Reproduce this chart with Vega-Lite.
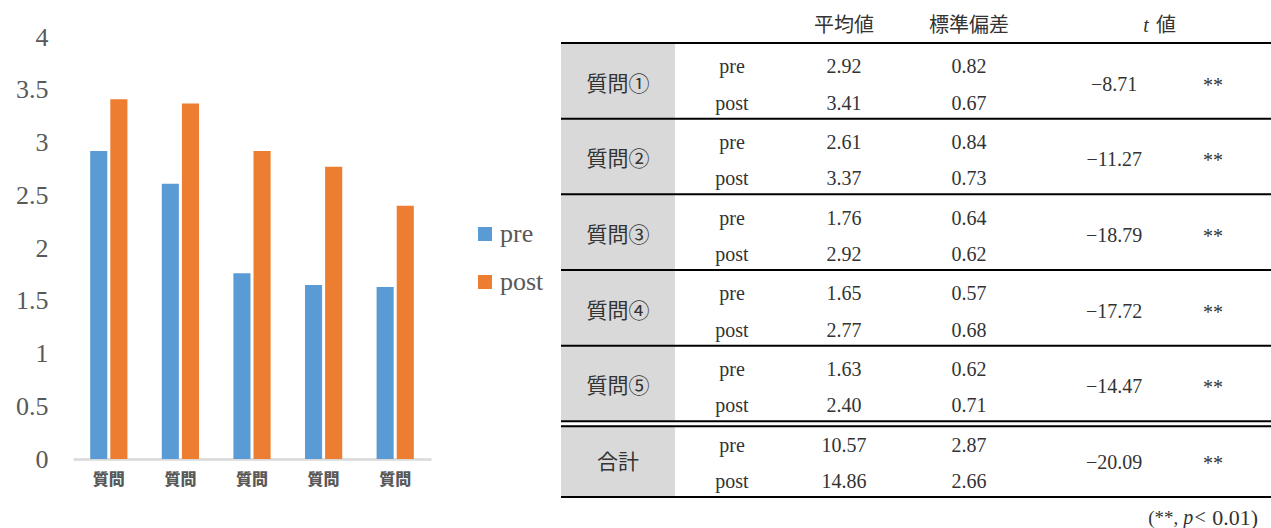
{
  "$schema": "https://vega.github.io/schema/vega-lite/v6.json",
  "padding": {"left": 15, "top": 15, "right": 0, "bottom": 0},
  "background": "white",
  "bounds": "flush",
  "spacing": 130,
  "config": {"view": {"stroke": null}, "axis": {"grid": false}},
  "datasets": {
    "stats": [
      {"group": "質問①", "phase": "pre", "mean": 2.92, "sd": 0.82},
      {"group": "質問①", "phase": "post", "mean": 3.41, "sd": 0.67},
      {"group": "質問②", "phase": "pre", "mean": 2.61, "sd": 0.84},
      {"group": "質問②", "phase": "post", "mean": 3.37, "sd": 0.73},
      {"group": "質問③", "phase": "pre", "mean": 1.76, "sd": 0.64},
      {"group": "質問③", "phase": "post", "mean": 2.92, "sd": 0.62},
      {"group": "質問④", "phase": "pre", "mean": 1.65, "sd": 0.57},
      {"group": "質問④", "phase": "post", "mean": 2.77, "sd": 0.68},
      {"group": "質問⑤", "phase": "pre", "mean": 1.63, "sd": 0.62},
      {"group": "質問⑤", "phase": "post", "mean": 2.40, "sd": 0.71},
      {"group": "合計", "phase": "pre", "mean": 10.57, "sd": 2.87},
      {"group": "合計", "phase": "post", "mean": 14.86, "sd": 2.66}
    ],
    "tests": [
      {"group": "質問①", "t": -8.71, "sig": "**"},
      {"group": "質問②", "t": -11.27, "sig": "**"},
      {"group": "質問③", "t": -18.79, "sig": "**"},
      {"group": "質問④", "t": -17.72, "sig": "**"},
      {"group": "質問⑤", "t": -14.47, "sig": "**"},
      {"group": "合計", "t": -20.09, "sig": "**"}
    ],
    "headers": [
      {"mean_h": "平均値", "sd_h": "標準偏差", "t_h": "t", "t_unit": "値", "note_a": "(**,", "note_p": "p", "note_lt": "<", "note_b": "0.01)"}
    ]
  },
  "hconcat": [
    {
      "width": 358,
      "height": 422,
      "data": {"name": "stats"},
      "transform": [{"filter": "datum.group !== '合計'"}],
      "mark": {"type": "bar"},
      "encoding": {
        "x": {
          "field": "group", "type": "nominal",
          "scale": {"domain": ["質問①", "質問②", "質問③", "質問④", "質問⑤"], "paddingInner": 0.48, "paddingOuter": 0.24},
          "axis": {
            "title": null, "labelExpr": "substring(datum.label, 0, 2)", "labelAngle": 0,
            "labelFont": "Noto Sans CJK JP", "labelFontWeight": 900, "labelFontSize": 16,
            "labelColor": "#595959", "labelDx": -10, "labelPadding": 12,
            "ticks": false, "domainColor": "#D9D9D9", "domainWidth": 2.5
          }
        },
        "xOffset": {"field": "phase", "type": "nominal", "scale": {"domain": ["pre", "post"], "paddingInner": 0.15}},
        "y": {
          "field": "mean", "type": "quantitative",
          "scale": {"domain": [0, 4], "nice": false},
          "axis": {
            "title": null, "values": [0, 0.5, 1, 1.5, 2, 2.5, 3, 3.5, 4], "format": "~g",
            "labelFont": "Liberation Serif", "labelFontSize": 26, "labelColor": "#595959",
            "labelPadding": 25, "ticks": false, "domain": false, "grid": false
          }
        },
        "color": {
          "field": "phase", "type": "nominal",
          "scale": {"domain": ["pre", "post"], "range": ["#5B9BD5", "#ED7D31"]},
          "legend": {
            "title": null, "orient": "none", "legendX": 399, "legendY": 184, "direction": "vertical",
            "symbolType": "square", "symbolSize": 196, "symbolStrokeWidth": 0, "symbolOpacity": 1,
            "labelFont": "Liberation Serif", "labelFontSize": 26, "labelColor": "#595959",
            "rowPadding": 22, "labelOffset": 2, "padding": 0
          }
        }
      }
    },
    {
      "width": 711,
      "height": 460,
      "layer": [
        {
          "data": {"name": "tests"},
          "mark": {"type": "rect", "color": "#D9D9D9"},
          "encoding": {
            "x": {"datum": 0, "type": "quantitative", "scale": {"domain": [0, 100], "nice": false, "zero": false}, "axis": null},
            "x2": {"datum": 16.03},
            "y": {"field": "group", "type": "nominal", "scale": {"type": "band", "domain": ["質問①", "質問②", "質問③", "質問④", "質問⑤", "合計"], "paddingInner": 0, "paddingOuter": 0.0396, "align": 1}, "axis": null}
          }
        },
        {
          "data": {"name": "tests"},
          "transform": [{"filter": "datum.group === '合計'"}],
          "mark": {"type": "rule", "color": "white", "strokeWidth": 4, "yOffset": 2.5},
          "encoding": {
            "x": {"datum": 0, "type": "quantitative"},
            "x2": {"datum": 16.03},
            "y": {"field": "group", "type": "nominal", "bandPosition": 0}
          }
        },
        {
          "data": {"name": "tests"},
          "mark": {"type": "rule", "color": "black", "strokeWidth": 2},
          "encoding": {
            "x": {"datum": 0, "type": "quantitative"},
            "x2": {"datum": 100},
            "y": {"field": "group", "type": "nominal", "bandPosition": 0}
          }
        },
        {
          "data": {"name": "tests"},
          "transform": [{"filter": "datum.group === '合計'"}],
          "mark": {"type": "rule", "color": "black", "strokeWidth": 2, "yOffset": 5},
          "encoding": {
            "x": {"datum": 0, "type": "quantitative"},
            "x2": {"datum": 100},
            "y": {"field": "group", "type": "nominal", "bandPosition": 0}
          }
        },
        {
          "data": {"name": "tests"},
          "transform": [{"filter": "datum.group === '合計'"}],
          "mark": {"type": "rule", "color": "black", "strokeWidth": 2},
          "encoding": {
            "x": {"datum": 0, "type": "quantitative"},
            "x2": {"datum": 100},
            "y": {"field": "group", "type": "nominal", "bandPosition": 1}
          }
        },
        {
          "data": {"name": "tests"},
          "mark": {"type": "text", "font": "Noto Sans CJK JP", "fontSize": 21, "color": "#333333", "dy": 4},
          "encoding": {
            "x": {"datum": 8.0, "type": "quantitative"},
            "y": {"field": "group", "type": "nominal", "bandPosition": 0.5},
            "text": {"field": "group"}
          }
        },
        {
          "data": {"name": "stats"},
          "transform": [{"filter": "datum.phase === 'pre'"}],
          "layer": [
            {
              "mark": {"type": "text", "font": "Liberation Serif", "fontSize": 20, "color": "#333333"},
              "encoding": {
                "x": {"datum": 24.05, "type": "quantitative"},
                "y": {"field": "group", "type": "nominal", "bandPosition": 0.32},
                "text": {"field": "phase"}
              }
            },
            {
              "mark": {"type": "text", "font": "Liberation Serif", "fontSize": 20, "color": "#333333"},
              "encoding": {
                "x": {"datum": 39.8, "type": "quantitative"},
                "y": {"field": "group", "type": "nominal", "bandPosition": 0.32},
                "text": {"field": "mean", "type": "quantitative", "format": ".2f"}
              }
            },
            {
              "mark": {"type": "text", "font": "Liberation Serif", "fontSize": 20, "color": "#333333"},
              "encoding": {
                "x": {"datum": 57.4, "type": "quantitative"},
                "y": {"field": "group", "type": "nominal", "bandPosition": 0.32},
                "text": {"field": "sd", "type": "quantitative", "format": ".2f"}
              }
            }
          ]
        },
        {
          "data": {"name": "stats"},
          "transform": [{"filter": "datum.phase === 'post'"}],
          "layer": [
            {
              "mark": {"type": "text", "font": "Liberation Serif", "fontSize": 20, "color": "#333333"},
              "encoding": {
                "x": {"datum": 24.05, "type": "quantitative"},
                "y": {"field": "group", "type": "nominal", "bandPosition": 0.8},
                "text": {"field": "phase"}
              }
            },
            {
              "mark": {"type": "text", "font": "Liberation Serif", "fontSize": 20, "color": "#333333"},
              "encoding": {
                "x": {"datum": 39.8, "type": "quantitative"},
                "y": {"field": "group", "type": "nominal", "bandPosition": 0.8},
                "text": {"field": "mean", "type": "quantitative", "format": ".2f"}
              }
            },
            {
              "mark": {"type": "text", "font": "Liberation Serif", "fontSize": 20, "color": "#333333"},
              "encoding": {
                "x": {"datum": 57.4, "type": "quantitative"},
                "y": {"field": "group", "type": "nominal", "bandPosition": 0.8},
                "text": {"field": "sd", "type": "quantitative", "format": ".2f"}
              }
            }
          ]
        },
        {
          "data": {"name": "tests"},
          "mark": {"type": "text", "font": "Liberation Serif", "fontSize": 20, "color": "#333333", "dy": 4},
          "encoding": {
            "x": {"datum": 77.8, "type": "quantitative"},
            "y": {"field": "group", "type": "nominal", "bandPosition": 0.5},
            "text": {"field": "t", "type": "quantitative", "format": ".2f"}
          }
        },
        {
          "data": {"name": "tests"},
          "mark": {"type": "text", "font": "Liberation Serif", "fontSize": 20, "color": "#333333", "dy": 5},
          "encoding": {
            "x": {"datum": 91.7, "type": "quantitative"},
            "y": {"field": "group", "type": "nominal", "bandPosition": 0.5},
            "text": {"field": "sig"}
          }
        },
        {
          "data": {"name": "headers"},
          "mark": {"type": "text", "font": "Noto Sans CJK JP", "fontSize": 20, "color": "#333333", "dy": -17},
          "encoding": {
            "x": {"datum": 39.8, "type": "quantitative"},
            "y": {"datum": "質問①", "type": "nominal", "bandPosition": 0},
            "text": {"field": "mean_h"}
          }
        },
        {
          "data": {"name": "headers"},
          "mark": {"type": "text", "font": "Noto Sans CJK JP", "fontSize": 20, "color": "#333333", "dy": -17},
          "encoding": {
            "x": {"datum": 57.4, "type": "quantitative"},
            "y": {"datum": "質問①", "type": "nominal", "bandPosition": 0},
            "text": {"field": "sd_h"}
          }
        },
        {
          "data": {"name": "headers"},
          "mark": {"type": "text", "font": "Liberation Serif", "fontStyle": "italic", "fontSize": 20, "color": "#333333", "dy": -17},
          "encoding": {
            "x": {"datum": 82.3, "type": "quantitative"},
            "y": {"datum": "質問①", "type": "nominal", "bandPosition": 0},
            "text": {"field": "t_h"}
          }
        },
        {
          "data": {"name": "headers"},
          "mark": {"type": "text", "font": "Noto Sans CJK JP", "fontSize": 20, "color": "#333333", "dy": -17},
          "encoding": {
            "x": {"datum": 85.1, "type": "quantitative"},
            "y": {"datum": "質問①", "type": "nominal", "bandPosition": 0},
            "text": {"field": "t_unit"}
          }
        },
        {
          "data": {"name": "headers"},
          "mark": {"type": "text", "font": "Liberation Serif", "fontSize": 19, "color": "#333333", "dy": 21, "align": "left"},
          "encoding": {
            "x": {"datum": 82.6, "type": "quantitative"},
            "y": {"datum": "合計", "type": "nominal", "bandPosition": 1},
            "text": {"field": "note_a"}
          }
        },
        {
          "data": {"name": "headers"},
          "mark": {"type": "text", "font": "Liberation Serif", "fontStyle": "italic", "fontSize": 20, "color": "#333333", "dy": 21, "align": "left"},
          "encoding": {
            "x": {"datum": 87.5, "type": "quantitative"},
            "y": {"datum": "合計", "type": "nominal", "bandPosition": 1},
            "text": {"field": "note_p"}
          }
        },
        {
          "data": {"name": "headers"},
          "mark": {"type": "text", "font": "Liberation Serif", "fontSize": 20, "color": "#333333", "dy": 21, "align": "left"},
          "encoding": {
            "x": {"datum": 89.1, "type": "quantitative"},
            "y": {"datum": "合計", "type": "nominal", "bandPosition": 1},
            "text": {"field": "note_lt"}
          }
        },
        {
          "data": {"name": "headers"},
          "mark": {"type": "text", "font": "Liberation Serif", "fontSize": 22, "color": "#333333", "dy": 21, "align": "left"},
          "encoding": {
            "x": {"datum": 91.6, "type": "quantitative"},
            "y": {"datum": "合計", "type": "nominal", "bandPosition": 1},
            "text": {"field": "note_b"}
          }
        }
      ]
    }
  ]
}
